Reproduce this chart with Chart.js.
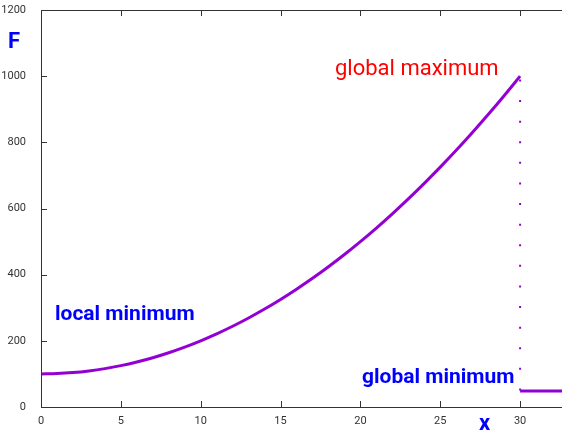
<!DOCTYPE html>
<html>
<head>
<meta charset="utf-8">
<script src="https://cdn.jsdelivr.net/npm/chart.js@4.4.1/dist/chart.umd.min.js"></script>
<style>
  html, body { margin: 0; padding: 0; background: #fff; overflow: hidden; }
  #wrap { width: 562px; height: 431px; overflow: hidden; }
</style>
</head>
<body>
<div id="wrap"><canvas id="chart" width="568" height="431"></canvas></div>
<script>
// curve F(x) at each whole x
const xs = [0, 1, 2, 3, 4, 5, 6, 7, 8, 9, 10, 11, 12, 13, 14, 15, 16, 17, 18, 19, 20,
            21, 22, 23, 24, 25, 26, 27, 28, 29, 30]
const fs = [100, 101, 104, 109, 116, 125, 136, 149, 164, 181, 200, 221, 244, 269, 296, 325,
            356, 389, 424, 461, 500, 541, 584, 629, 676, 725, 776, 829, 884, 941, 1000]
// jump at x = 30 down to the global minimum
const jumpX = [30, 30]
const jumpF = [50, 1000]
const flatX = [30, 33]
const flatF = [48, 48]

const xTicks = [0, 5, 10, 15, 20, 25, 30]
const yTicks = [0, 200, 400, 600, 800, 1000, 1200]

const purple = "#9400d3"
const toPts = (a, b) => a.map((v, i) => ({ x: v, y: b[i] }))

// box border, inward ticks and the text labels
const framePlugin = {
    id: "frame",
    afterDraw(chart) {
        const { ctx, chartArea: a, scales } = chart
        const x = scales.x, y = scales.y
        ctx.save()
        ctx.strokeStyle = "#333"
        ctx.lineWidth = 1
        ctx.strokeRect(a.left + 0.5, a.top + 0.5, a.right - a.left, a.bottom - a.top)
        ctx.beginPath()
        xTicks.forEach(v => {
            const px = Math.round(x.getPixelForValue(v)) + 0.5
            ctx.moveTo(px, a.bottom); ctx.lineTo(px, a.bottom - 6)
            ctx.moveTo(px, a.top); ctx.lineTo(px, a.top + 6)
        })
        yTicks.forEach(v => {
            const py = Math.round(y.getPixelForValue(v)) + 0.5
            ctx.moveTo(a.left, py); ctx.lineTo(a.left + 6, py)
            ctx.moveTo(a.right, py); ctx.lineTo(a.right - 6, py)
        })
        ctx.stroke()

        ctx.textBaseline = "middle"
        ctx.textAlign = "left"
        ctx.fillStyle = "#ff0000"
        ctx.font = "22px Roboto"
        ctx.fillText("global maximum", 335, 69)
        ctx.fillStyle = "#0000ff"
        ctx.font = "bold 21px Roboto"
        ctx.fillText("local minimum", 55, 315)
        ctx.fillText("global minimum", 362, 378)
        ctx.font = "bold 22px Roboto"
        ctx.fillText("F", 8, 42)
        ctx.fillText("x", 479, 424)
        ctx.restore()
    }
}

new Chart(document.getElementById("chart"), {
    type: "line",
    data: {
        datasets: [
            {
                data: toPts(jumpX, jumpF),
                borderColor: purple,
                borderWidth: 2,
                borderDash: [2, 18.6],
                pointRadius: 0
            },
            {
                data: toPts(xs, fs),
                borderColor: purple,
                borderWidth: 3,
                cubicInterpolationMode: "monotone",
                pointRadius: 0
            },
            {
                data: toPts(flatX, flatF),
                borderColor: purple,
                borderWidth: 3,
                pointRadius: 0
            }
        ]
    },
    options: {
        responsive: false,
        animation: false,
        layout: { padding: { top: 10, right: 0, left: 0, bottom: 0 } },
        plugins: { legend: { display: false }, tooltip: { enabled: false } },
        scales: {
            x: {
                type: "linear",
                min: 0,
                max: 33,
                afterFit: s => { s.height = 24; s.paddingLeft = 0; s.paddingRight = 0 },
                grid: { display: false },
                border: { display: false },
                ticks: {
                    stepSize: 5,
                    includeBounds: false,
                    autoSkip: false,
                    maxRotation: 0,
                    padding: 0,
                    color: "#333",
                    font: { family: "Roboto", size: 11 },
                    callback: v => String(v)
                }
            },
            y: {
                min: 0,
                max: 1200,
                afterFit: s => { s.width = 41; s.paddingTop = 0; s.paddingBottom = 0 },
                grid: { display: false },
                border: { display: false },
                ticks: {
                    stepSize: 200,
                    padding: 7,
                    color: "#333",
                    font: { family: "Roboto", size: 11 },
                    callback: v => String(v)
                }
            }
        }
    },
    plugins: [framePlugin]
})
</script>
</body>
</html>
